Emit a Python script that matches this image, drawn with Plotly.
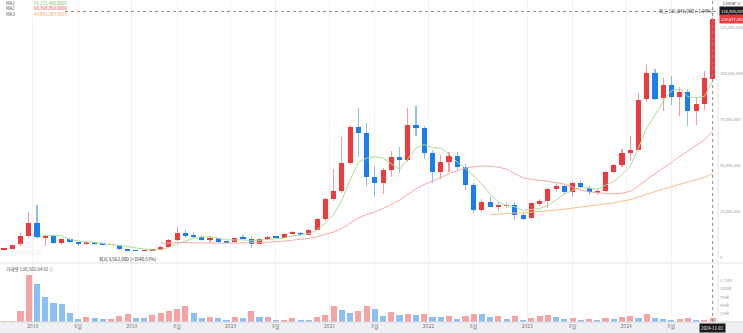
import pandas as pd
import plotly.graph_objects as go

# Monthly BTC/KRW candles, Sep 2017 .. Nov 2024 (prices in million KRW)
months = pd.date_range("2017-09-01", "2024-11-01", freq="MS")

opens_m = [4.6, 4.9, 7.4, 12.0, 19.0, 11.4, 11.9, 8.0, 10.2, 8.6, 7.4, 8.6, 7.8, 7.4, 7.0, 4.7,
           4.2, 3.9, 4.3, 4.6, 6.0, 10.0, 13.7, 12.1, 11.6, 9.8, 10.8, 8.9,
           8.5, 10.9, 10.4, 7.8, 10.6, 11.6, 11.0, 13.3, 13.8, 12.6, 15.4, 21.2,
           32.1, 36.4, 51.8, 71.4, 67.8, 43.9, 40.6, 47.8, 55.1, 53.3, 72.3, 70.5,
           56.9, 46.9, 52.3, 55.4, 49.3, 39.7, 26.1, 30.6, 27.9, 28.4, 28.8, 23.4,
           21.6, 29.6, 31.1, 37.6, 39.1, 36.0, 40.6, 38.0, 35.5, 36.6, 46.9, 50.5,
           57.2, 58.7, 86.2, 100.7, 87.1, 94.0, 87.7, 90.1, 80.1, 83.5, 97.4]
highs_m = [5.0, 7.1, 13.6, 25.0, 28.8, 12.3, 12.6, 10.3, 11.0, 8.7, 9.4, 8.9, 8.1, 7.5, 7.2, 4.8,
           4.3, 4.5, 4.7, 6.5, 10.6, 16.7, 15.1, 14.3, 12.5, 12.0, 11.0, 9.0,
           11.0, 12.5, 11.2, 10.8, 12.0, 12.0, 13.5, 14.6, 14.1, 15.7, 21.5, 32.8,
           48.4, 65.9, 72.5, 81.5, 73.4, 50.0, 48.9, 58.2, 60.5, 81.4, 82.6, 71.5,
           58.7, 56.0, 57.4, 57.6, 51.0, 40.5, 32.0, 33.0, 30.5, 30.0, 30.2, 24.4,
           30.7, 32.0, 38.0, 40.8, 39.6, 41.3, 41.6, 38.9, 37.5, 47.5, 51.2, 59.0,
           66.3, 89.8, 104.9, 102.5, 97.7, 99.1, 93.0, 91.8, 86.8, 101.8, 131.041]
lows_m = [4.4, 4.8, 6.4, 11.0, 10.9, 6.6, 7.5, 7.3, 8.2, 6.5, 6.9, 6.9, 7.0, 7.0, 4.1, 3.562,
          3.8, 3.8, 4.2, 4.5, 5.8, 9.3, 10.7, 11.1, 9.3, 8.9, 8.3, 7.9,
          8.4, 10.2, 5.5, 7.6, 10.2, 10.9, 10.9, 13.1, 11.8, 12.4, 15.2, 20.0,
          31.0, 35.6, 50.5, 55.0, 39.3, 33.7, 34.8, 43.9, 46.0, 52.0, 66.5, 54.0,
          40.9, 42.9, 46.9, 47.8, 37.0, 24.5, 24.8, 27.5, 25.8, 27.0, 20.7, 20.8,
          21.3, 28.3, 27.2, 36.1, 34.9, 33.2, 38.1, 34.3, 34.5, 35.8, 46.0, 49.5,
          52.9, 58.0, 84.9, 85.9, 79.9, 83.2, 77.3, 71.9, 72.3, 80.4, 96.0]
closes_m = [4.9, 7.0, 12.0, 19.0, 11.4, 11.7, 8.0, 10.2, 8.6, 7.4, 8.6, 7.8, 7.4, 7.1, 4.7, 4.2,
            3.9, 4.3, 4.6, 6.0, 10.0, 13.7, 12.1, 11.6, 9.8, 10.8, 8.9, 8.5,
            10.9, 10.4, 7.8, 10.6, 11.6, 11.0, 13.3, 13.8, 12.6, 15.4, 21.2, 32.1,
            36.4, 51.8, 71.4, 67.8, 43.9, 40.6, 47.8, 55.1, 53.3, 72.3, 70.5, 56.9,
            46.9, 52.3, 55.4, 49.3, 39.7, 26.1, 30.6, 27.9, 28.4, 28.8, 23.4, 21.2,
            29.7, 31.1, 37.3, 39.1, 36.0, 40.6, 38.4, 35.7, 36.6, 46.9, 50.5, 56.9,
            58.7, 85.9, 100.7, 86.6, 94.0, 87.7, 90.1, 80.1, 83.5, 97.7, 129.677]

# Monthly traded volume (thousand BTC)
volumes_k = [5, 20, 331, 1416, 1135, 763, 562, 556, 261, 90, 161, 131, 80, 84, 181, 241,
             131, 128, 201, 281, 341, 382, 482, 261, 131, 141, 110, 70,
             141, 120, 331, 151, 161, 60, 62, 131, 70, 60, 161, 201,
             482, 361, 281, 321, 472, 382, 191, 301, 211, 251, 211, 231,
             161, 151, 181, 90, 181, 251, 231, 141, 171, 90, 181, 60,
             120, 191, 221, 151, 90, 120, 70, 80, 70, 110, 90, 151,
             171, 131, 241, 120, 90, 50, 90, 110, 60, 72, 130.502641]

price_ticks = [0, 25_000_000, 50_000_000, 75_000_000, 100_000_000, 125_000_000]
volume_ticks = [250_000, 500_000, 750_000, 1_000_000, 1_250_000]
volume_tick_text = ["250k", "500k", "750k", "1000k", "1.25m"]
ma_periods = [5, 20, 60]
crosshair_price = 134_000_000

to_won = lambda arr: [round(v * 1_000_000) for v in arr]
opens, highs, lows, closes = map(to_won, (opens_m, highs_m, lows_m, closes_m))
volumes = [v * 1000 for v in volumes_k]
idx = list(range(len(months)))

UP, DOWN = "#ef3a3d", "#1b7df0"
UP_WICK, DOWN_WICK = "rgba(239,58,61,0.5)", "rgba(27,125,240,0.5)"
UP_VOL, DOWN_VOL = "#f7a3a4", "#8cbff4"
MA_LINE = ["#a9dd99", "#f5a9a9", "#f8bf8a"]
MA_TEXT = ["#76c964", "#ee4b4b", "#f39c45"]
FONT = "Noto Sans CJK KR, Noto Sans, sans-serif"

up = [c >= o for o, c in zip(opens, closes)]
vol_up = [True] + [volumes[i] >= volumes[i - 1] for i in range(1, len(volumes))]

close_s = pd.Series(closes, dtype=float)
mas = [close_s.rolling(p).mean() for p in ma_periods]

fig = go.Figure()

# wicks
fig.add_trace(go.Bar(
    x=idx, base=lows, y=[h - l for h, l in zip(highs, lows)], width=0.13,
    marker=dict(color=[UP_WICK if u else DOWN_WICK for u in up], line_width=0),
    yaxis="y", hoverinfo="skip", showlegend=False))
# bodies
min_body = 400_000
fig.add_trace(go.Bar(
    x=idx, base=[min(o, c) for o, c in zip(opens, closes)],
    y=[max(abs(c - o), min_body) for o, c in zip(opens, closes)], width=0.62,
    marker=dict(color=[UP if u else DOWN for u in up], line_width=0),
    yaxis="y", hoverinfo="skip", showlegend=False))
# moving averages
for ma, col in zip(mas, MA_LINE):
    fig.add_trace(go.Scatter(x=idx, y=ma, mode="lines", line=dict(color=col, width=1),
                             yaxis="y", hoverinfo="skip", showlegend=False))
# volume
fig.add_trace(go.Bar(
    x=idx, y=volumes, width=0.74,
    marker=dict(color=[UP_VOL if u else DOWN_VOL for u in vol_up], line_width=0),
    yaxis="y2", hoverinfo="skip", showlegend=False))

PLOT_W, PLOT_H = 718, 322
VOL_H = 59
split = VOL_H / PLOT_H
px_per_won = 1.84 / 1_000_000
price_bottom = -5 / 1.84 * 1_000_000
price_top = price_bottom + (PLOT_H - VOL_H) / px_per_won
vol_top = VOL_H / 8.3 * 250_000

tickvals, ticktext = [], []
for i, m in enumerate(months):
    if m.month == 1:
        tickvals.append(i - 0.5); ticktext.append(str(m.year))
    elif m.month == 6:
        tickvals.append(i); ticktext.append("6월")

last = idx[-1]
HIGH = max(highs)
LOW = min(lows)
CLOSE = closes[-1]
hi_i = highs.index(HIGH)
lo_i = lows.index(LOW)

AXIS_FONT = dict(size=4.1, color="#9a9a9a")

fig.update_layout(
    template="none",
    width=743, height=333,
    margin=dict(l=0, r=25, t=0, b=11),
    paper_bgcolor="white", plot_bgcolor="white",
    font=dict(family=FONT, size=5, color="#888"),
    barmode="overlay", bargap=0,
    showlegend=False,
    xaxis=dict(range=[-0.49, 86.65], anchor="y2", tickvals=tickvals, ticktext=ticktext,
               showgrid=True, gridcolor="#f3f3f3", gridwidth=1, zeroline=False,
               showline=False, ticks="", tickfont=dict(size=5, color="#7a7a7a"),
               automargin=False, fixedrange=True),
    yaxis=dict(domain=[split, 1], range=[price_bottom, price_top], side="right", anchor="x",
               tickvals=price_ticks, ticktext=[f"{v:,}" for v in price_ticks],
               showgrid=False, zeroline=False, showline=False, ticks="",
               ticklabelstandoff=1, tickfont=AXIS_FONT, automargin=False),
    yaxis2=dict(domain=[0, split], range=[0, vol_top], side="right", anchor="x",
                tickvals=volume_ticks, ticktext=volume_tick_text,
                showgrid=False, zeroline=False, showline=False, ticks="",
                ticklabelstandoff=1, tickfont=AXIS_FONT, automargin=False),
)

right_edge = 1 + 25 / PLOT_W
shapes = [
    dict(type="rect", xref="paper", yref="paper", x0=-0.01, x1=right_edge + 0.01,
         y0=-11 / PLOT_H - 0.01, y1=0, fillcolor="#eef0f3", line_width=0, layer="below"),
    dict(type="line", xref="paper", yref="paper", x0=0, x1=right_edge, y0=0, y1=0,
         line=dict(color="#d8dbe0", width=1)),
    dict(type="line", xref="paper", yref="paper", x0=0, x1=right_edge, y0=split, y1=split,
         line=dict(color="#e2e2e2", width=1)),
    dict(type="line", xref="paper", yref="paper", x0=1, x1=1, y0=0, y1=1,
         line=dict(color="#e8e8e8", width=1)),
    dict(type="line", xref="x", yref="paper", x0=last, x1=last, y0=0, y1=1,
         line=dict(color="#8c8c8c", width=1, dash="dot")),
    dict(type="line", xref="paper", yref="y", x0=65 / PLOT_W, x1=1,
         y0=crosshair_price, y1=crosshair_price,
         line=dict(color="#8c8c8c", width=1, dash="dot")),
]
fig.update_layout(shapes=shapes)

ann = []
# moving-average legend
for row, (p, ma, col) in enumerate(zip(ma_periods, mas, MA_TEXT)):
    ypx = 2.6 + row * 5.5
    ann.append(dict(xref="paper", yref="paper", x=4 / PLOT_W, y=1 - ypx / PLOT_H,
                    xanchor="left", yanchor="middle", showarrow=False,
                    text=f"MA{row + 1}", font=dict(size=4.4, color="#555")))
    ann.append(dict(xref="paper", yref="paper", x=32 / PLOT_W, y=1 - ypx / PLOT_H,
                    xanchor="left", yanchor="middle", showarrow=False,
                    text=f"{ma.iloc[-1]:,.4f}", font=dict(size=4.4, color=col)))
# scale mode
ann.append(dict(xref="paper", yref="paper", x=1, y=1 - 3 / PLOT_H, xanchor="left",
                yanchor="middle", xshift=3, showarrow=False, text="Linear ∨",
                font=dict(size=4.4, color="#444")))
# price tags on the right axis
ann.append(dict(xref="paper", yref="y", x=1, y=crosshair_price, xanchor="left",
                yanchor="middle", xshift=1, showarrow=False, text=f"{crosshair_price:,}",
                bgcolor="#1a1a1a", borderpad=1, font=dict(size=4.1, color="white")))
ann.append(dict(xref="paper", yref="y", x=1, y=CLOSE, xanchor="left",
                yanchor="middle", xshift=1, showarrow=False, text=f"{CLOSE:,}",
                bgcolor=UP, borderpad=1, font=dict(size=4.1, color="white")))
# high / low markers
ann.append(dict(xref="x", yref="y", x=hi_i, y=HIGH, xanchor="right", yanchor="middle",
                xshift=2, yshift=5, showarrow=False,
                text=f"최고 {HIGH:,} ({(CLOSE / HIGH - 1) * 100:.2f}%)",
                font=dict(size=4.6, color="#333")))
ann.append(dict(xref="x", yref="y", x=hi_i, y=HIGH, ax=0, ay=-4, text=" ",
                showarrow=True, arrowhead=2, arrowsize=0.5, arrowwidth=1, arrowcolor="#333"))
ann.append(dict(xref="x", yref="y", x=lo_i, y=LOW, xanchor="center", yanchor="top",
                yshift=-3, showarrow=False,
                text=f"최저 {LOW:,} (+{(CLOSE / LOW - 1) * 100:.2f}%)",
                font=dict(size=4.6, color="#333")))
ann.append(dict(xref="x", yref="y", x=lo_i, y=LOW, ax=0, ay=3, text=" ",
                showarrow=True, arrowhead=2, arrowsize=0.5, arrowwidth=1, arrowcolor="#333"))
# volume title
ann.append(dict(xref="paper", yref="paper", x=4 / PLOT_W, y=(PLOT_H - 269) / PLOT_H,
                xanchor="left", yanchor="middle", showarrow=False,
                text=f"거래량 {volumes[-1]:,.4f} <span style='color:#bbb'>⊕</span>",
                font=dict(size=4.6, color="#555")))
# date tag of the selected candle
ann.append(dict(xref="x", yref="paper", x=last, y=-5.5 / PLOT_H, xanchor="center",
                yanchor="middle", showarrow=False, text=months[-1].strftime("%Y-%m-%d"),
                bgcolor="#1a1a1a", borderpad=1, font=dict(size=4.3, color="white")))
# watermark
ann.append(dict(xref="paper", yref="paper", x=10 / PLOT_W, y=(PLOT_H - 248) / PLOT_H,
                xanchor="left", yanchor="middle", showarrow=False,
                text="<b>NAVER<br>FINANCIAL</b>", align="left",
                font=dict(size=6, color="rgba(205,205,205,0.25)")))
fig.update_layout(annotations=ann)

fig.write_html("out.html", config={"displayModeBar": False})
